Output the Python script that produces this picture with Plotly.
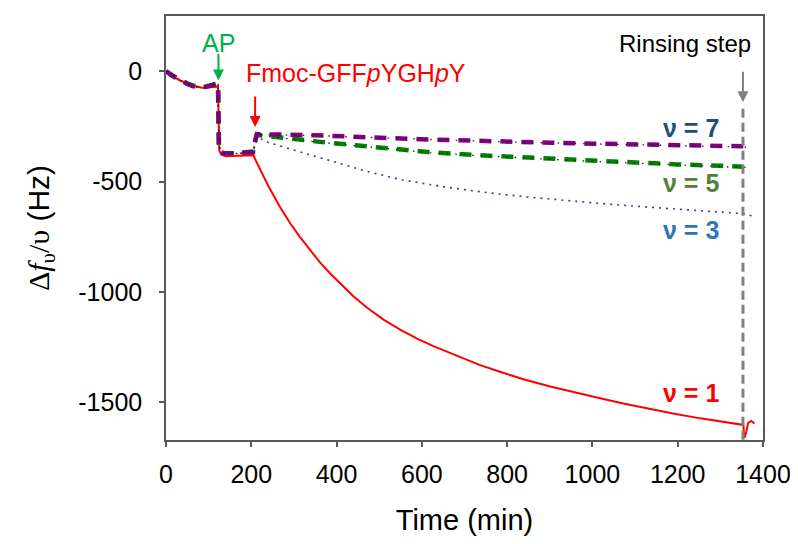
import plotly.graph_objects as go

# ---- data (time in min, Δf/ν in Hz) ----
time_v7 = [0, 15, 33, 50, 64, 87, 111, 120, 122, 123, 124, 127, 134, 160, 190, 204, 206, 211, 213,
           349, 432, 514, 596, 674, 748, 830, 905, 978, 1100, 1200, 1300, 1354]
dfv_v7 = [0, -22, -38, -58, -68, -74, -62, -55, -60, -200, -330, -365, -372, -372, -368, -366, -340, -290, -285,
          -290, -297, -302, -308, -312, -317, -321, -324, -327, -332, -335, -338, -340]

time_v5 = [0, 15, 33, 50, 64, 87, 111, 120, 122, 123, 124, 127, 134, 160, 190, 204, 206, 211, 213,
           361, 494, 619, 748, 873, 994, 1100, 1200, 1300, 1354]
dfv_v5 = [0, -20, -40, -55, -66, -72, -60, -56, -62, -210, -335, -365, -370, -372, -368, -364, -340, -292, -288,
          -320, -345, -367, -382, -394, -406, -415, -422, -428, -433]

time_v9 = [0, 33, 64, 87, 111, 122, 123, 126, 134, 190, 204, 211, 213, 349, 514, 674, 830, 978, 1200, 1375]
dfv_v9 = [0, -40, -70, -74, -62, -60, -220, -362, -372, -370, -366, -292, -287, -291, -303, -313, -322, -328, -337, -344]

time_v11 = [0, 33, 64, 87, 111, 122, 123, 126, 134, 190, 204, 211, 213, 361, 494, 619, 748, 873, 994, 1200, 1375]
dfv_v11 = [0, -41, -69, -73, -61, -61, -230, -364, -374, -371, -366, -294, -290, -322, -347, -369, -384, -396, -408, -424, -437]

time_v3 = [0, 33, 64, 87, 111, 122, 123, 126, 134, 190, 204, 211, 220, 236, 275, 314, 350, 392, 470, 549, 630,
           705, 780, 861, 930, 1002, 1090, 1180, 1270, 1354, 1375]
dfv_v3 = [0, -40, -68, -73, -62, -60, -230, -365, -374, -372, -368, -320, -303, -320, -343, -365, -388, -410, -453, -490, -517,
          -538, -556, -572, -585, -596, -610, -622, -634, -645, -655]

time_v1 = [0, 15, 33, 50, 64, 87, 111, 118, 122, 123, 125, 130, 140, 170, 205, 211, 240, 267, 290, 314, 338, 361, 385,
           408, 440, 471, 510, 549, 590, 627, 660, 689, 735, 783, 840, 901, 960, 1018, 1075, 1135, 1195, 1253, 1300,
           1354, 1356, 1360, 1365, 1372, 1380]
dfv_v1 = [0, -22, -42, -55, -66, -76, -72, -70, -66, -250, -360, -378, -385, -383, -380, -406, -520, -614, -685, -750, -812, -866, -916,
          -960, -1020, -1070, -1125, -1170, -1212, -1245, -1272, -1295, -1330, -1361, -1396, -1428, -1456, -1481, -1506, -1530, -1552, -1572, -1587,
          -1602, -1660, -1640, -1593, -1584, -1595]

x_ticks = [0, 200, 400, 600, 800, 1000, 1200, 1400]
y_ticks = [0, -500, -1000, -1500]
y_tick_text = ["0", "-500", "-1000", "-1500"]
x_range = [0, 1400]
y_range = [-1670, 250]

rinse_time = 1353
ap_time = 123
fmoc_time = 209

fig = go.Figure()

fig.add_trace(go.Scatter(x=time_v3, y=dfv_v3, mode="lines", name="ν = 3",
                         line=dict(color="#3838A8", width=1.6, dash="2px,5px")))
fig.add_trace(go.Scatter(x=time_v1, y=dfv_v1, mode="lines", name="ν = 1",
                         line=dict(color="#FF0000", width=2)))
fig.add_trace(go.Scatter(x=time_v5, y=dfv_v5, mode="lines", name="ν = 5",
                         line=dict(color="#008000", width=4.5, dash="12px,9px")))
fig.add_trace(go.Scatter(x=time_v7, y=dfv_v7, mode="lines", name="ν = 7",
                         line=dict(color="#800080", width=4.5, dash="12px,9px")))
fig.add_trace(go.Scatter(x=time_v9, y=dfv_v9, mode="lines", name="ν = 9",
                         line=dict(color="#222222", width=1.3, dash="1.5px,7px")))
fig.add_trace(go.Scatter(x=time_v11, y=dfv_v11, mode="lines", name="ν = 11",
                         line=dict(color="#222222", width=1.3, dash="1.5px,7px")))

# rinsing step dashed vertical line
fig.add_shape(type="line", x0=rinse_time, x1=rinse_time, y0=-170, y1=y_range[0],
              line=dict(color="#808080", width=3, dash="9px,5px"), layer="above")

# arrows
fig.add_annotation(x=ap_time, y=-42, ax=0, ay=-28, text="", showarrow=True,
                   arrowhead=2, arrowsize=1.1, arrowwidth=2, arrowcolor="#00B050")
fig.add_annotation(x=fmoc_time, y=-253, ax=0, ay=-32, text="", showarrow=True,
                   arrowhead=2, arrowsize=1.1, arrowwidth=2, arrowcolor="#FF0000")
fig.add_annotation(x=rinse_time, y=-140, ax=0, ay=-32, text="", showarrow=True,
                   arrowhead=2, arrowsize=1.1, arrowwidth=2, arrowcolor="#808080")

# texts
fig.add_annotation(x=ap_time, y=128, text="AP", showarrow=False,
                   font=dict(family="Liberation Sans, Arial", size=25, color="#00B050"))
fig.add_annotation(x=446, y=-9, text="Fmoc-GFF<i>p</i>YGH<i>p</i>Y", showarrow=False,
                   font=dict(family="Liberation Sans, Arial", size=25, color="#FF0000"))
fig.add_annotation(x=1217, y=127, text="Rinsing step", showarrow=False,
                   font=dict(family="Liberation Sans, Arial", size=24, color="#000000"))

labels = [("ν = 7", -258, "#1F4E79"), ("ν = 5", -507, "#548235"),
          ("ν = 3", -719, "#2E75B6"), ("ν = 1", -1457, "#FF0000")]
for txt, yv, col in labels:
    fig.add_annotation(x=1230, y=yv, text="<b>" + txt + "</b>", showarrow=False,
                       font=dict(family="Liberation Sans, Arial", size=25, color=col))

axis_common = dict(showline=True, linecolor="#595959", linewidth=1.5, mirror=True,
                   ticks="outside", ticklen=5, tickcolor="#595959", tickwidth=1.5,
                   showgrid=False, zeroline=False, automargin=False,
                   tickfont=dict(family="Liberation Sans, Arial", size=25, color="#000000"))

fig.update_layout(
    width=790, height=536,
    margin=dict(l=158, r=35, t=8, b=104),
    paper_bgcolor="white", plot_bgcolor="white",
    showlegend=False,
    xaxis=dict(range=x_range, tickvals=x_ticks, ticklabelstandoff=6, **axis_common,
               title=dict(text="Time (min)", standoff=23,
                          font=dict(family="Liberation Sans, Arial", size=29, color="#000000"))),
    yaxis=dict(range=y_range, tickvals=y_ticks, ticktext=y_tick_text, ticklabelstandoff=12, **axis_common,
               title=dict(text="<span style='font-family:Liberation Serif'>Δ<i>f</i><sub>υ</sub>/υ</span> (Hz)",
                          standoff=20,
                          font=dict(family="Liberation Sans, Arial", size=30, color="#000000"))),
)

fig.write_html("out.html")
